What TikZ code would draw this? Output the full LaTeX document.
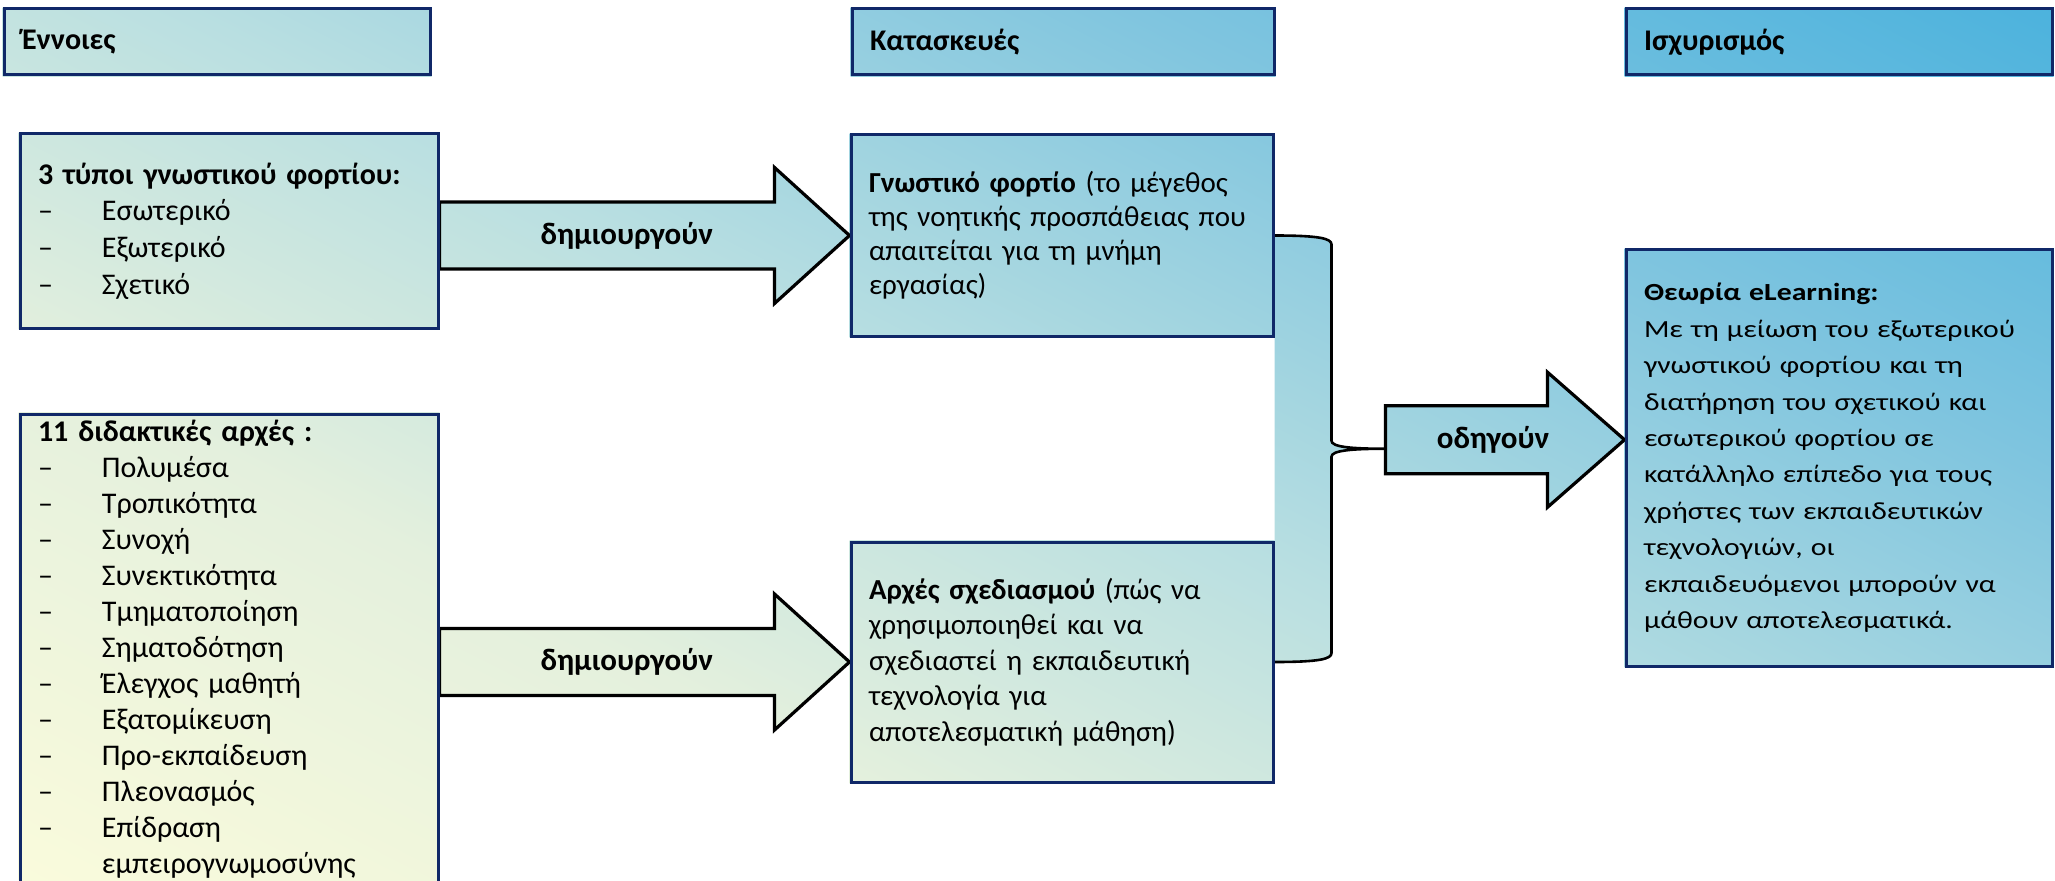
\documentclass[tikz,border=0pt]{standalone}
\usepackage{fontspec}
\setmainfont{Carlito}
\newfontfamily\wide{Carlito}[FakeStretch=1.21]
\usetikzlibrary{calc,backgrounds}
\definecolor{navy}{RGB}{16,40,104}
\definecolor{gradA}{RGB}{250,251,220}
\definecolor{gradB}{RGB}{228,240,221}
\definecolor{gradC}{RGB}{185,223,225}
\definecolor{gradD}{RGB}{128,197,223}
\definecolor{gradE}{RGB}{75,178,221}
\pgfdeclarehorizontalshading{diag}{100bp}{color(0bp)=(gradA); color(14.4bp)=(gradA); color(34.3bp)=(gradB); color(50bp)=(gradC); color(67.8bp)=(gradD); color(85.6bp)=(gradE); color(100bp)=(gradE)}

\begin{document}
\begin{tikzpicture}[x=0.5pt, y=0.5pt,
    grad/.style={path picture={\node[inner sep=0pt, rotate=63, scale=12] at (gc) {\pgfuseshading{diag}};}},
    box/.style={draw=navy, line width=1.5pt, align=left, inner xsep=9pt, inner ysep=0pt},
    head/.style={box, minimum height=33pt, font=\fontsize{15}{18}\selectfont\bfseries},
    blockarrow/.style={draw=black, line width=1.6pt, grad},
    arrowlabel/.style={inner sep=0pt, font=\fontsize{15.5}{18}\selectfont\bfseries},
    bracestyle/.style={draw=black, line width=1.3pt, grad}]
    \useasboundingbox (0,0) rectangle (2055,880);
    \coordinate (gc) at (1027.5,440);

    % headers
    \node[head, minimum width=213pt, text width=195pt] (hE) at (217,838) {Έννοιες};
    \node[head, minimum width=211pt, text width=193pt] (hK) at (1063,838) {Κατασκευές};
    \node[head, minimum width=213pt, text width=195pt] (hI) at (1839,838) {Ισχυρισμός};

    % left column
    \node[box, minimum width=209pt, minimum height=97pt, text width=191pt, font=\fontsize{15}{18.3}\selectfont] (tt) at (229,649)
        {\textbf{3 τύποι γνωστικού φορτίου:}\\
         \makebox[32pt][l]{–}Εσωτερικό\\
         \makebox[32pt][l]{–}Εξωτερικό\\
         \makebox[32pt][l]{–}Σχετικό};
    \node[box, minimum width=209pt, minimum height=235pt, text width=191pt, font=\fontsize{15}{18}\selectfont] (dd) at (229,231)
        {\textbf{11 διδακτικές αρχές :}\\
         \makebox[32pt][l]{–}Πολυμέσα\\
         \makebox[32pt][l]{–}Τροπικότητα\\
         \makebox[32pt][l]{–}Συνοχή\\
         \makebox[32pt][l]{–}Συνεκτικότητα\\
         \makebox[32pt][l]{–}Τμηματοποίηση\\
         \makebox[32pt][l]{–}Σηματοδότηση\\
         \makebox[32pt][l]{–}Έλεγχος μαθητή\\
         \makebox[32pt][l]{–}Εξατομίκευση\\
         \makebox[32pt][l]{–}Προ-εκπαίδευση\\
         \makebox[32pt][l]{–}Πλεονασμός\\
         \makebox[32pt][l]{–}Επίδραση\\
         \makebox[32pt][l]{}εμπειρογνωμοσύνης};

    % middle column
    \node[box, minimum width=211pt, minimum height=100.5pt, text width=193pt, font=\fontsize{14.5}{17}\selectfont] (gf) at (1062,644.5)
        {\textbf{Γνωστικό φορτίο} (το μέγεθος\\
         της νοητικής προσπάθειας που\\
         απαιτείται για τη μνήμη\\
         εργασίας)};
    \node[box, minimum width=211pt, minimum height=120pt, text width=193pt, font=\fontsize{14.5}{17.8}\selectfont] (ad) at (1062,218)
        {\textbf{Αρχές σχεδιασμού} (πώς να\\
         χρησιμοποιηθεί και να\\
         σχεδιαστεί η εκπαιδευτική\\
         τεχνολογία για\\
         αποτελεσματική μάθηση)};

    % right column
    \node[box, minimum width=213pt, minimum height=208pt, text width=195pt, font=\wide\fontsize{12.3}{18.2}\selectfont] (th) at (1839,422)
        {\textbf{Θεωρία eLearning:}\\
         Με τη μείωση του εξωτερικού\\
         γνωστικού φορτίου και τη\\
         διατήρηση του σχετικού και\\
         εσωτερικού φορτίου σε\\
         κατάλληλο επίπεδο για τους\\
         χρήστες των εκπαιδευτικών\\
         τεχνολογιών, οι\\
         εκπαιδευόμενοι μπορούν να\\
         μάθουν αποτελεσματικά.};

    \begin{scope}[on background layer]
        % gradient fill behind every box
        \foreach \n in {hE, hK, hI, tt, dd, gf, ad, th}
            \path[grad] (\n.south west) rectangle (\n.north east);

        \foreach \s/\t in {tt/gf, dd/ad}{
            \coordinate (a\s) at (\s.east |- \t.west);
            \draw[blockarrow] ($(a\s)+(0,33.5)$) -- ($(\t.west)+(-75,33.5)$) -- ($(\t.west)+(-75,68)$) -- (\t.west)
                -- ($(\t.west)+(-75,-68)$) -- ($(\t.west)+(-75,-33.5)$) -- ($(a\s)+(0,-33.5)$) -- cycle;
            \node[arrowlabel] (l\t) at ($(a\s)!0.457!(\t.west)$) {δημιουργούν};
        }

        % brace joining the two constructs
        \coordinate (brtip) at ($(gf.east)!0.5!(ad.east)+(111,0)$);
        \draw[bracestyle] (gf.east) .. controls +(45,0) and +(0,6) .. ($(gf.east)+(57,-9)$)
            -- ($(brtip)+(-54,8)$) .. controls +(0,-6) and +(-36,0) .. (brtip)
            .. controls +(-36,0) and +(0,6) .. ($(brtip)+(-54,-8)$)
            -- ($(ad.east)+(57,9)$) .. controls +(0,-6) and +(45,0) .. (ad.east);

        \coordinate (oa) at ($(brtip)+(0,9)$);
        \coordinate (ob) at (th.west |- oa);
        \draw[blockarrow] ($(oa)+(0,34)$) -- ($(ob)+(-77,34)$) -- ($(ob)+(-77,67.5)$) -- (ob)
            -- ($(ob)+(-77,-67.5)$) -- ($(ob)+(-77,-34)$) -- ($(oa)+(0,-34)$) -- cycle;
        \node[arrowlabel] (lo) at ($(oa)!0.45!(ob)$) {οδηγούν};
    \end{scope}
\end{tikzpicture}
\end{document}
